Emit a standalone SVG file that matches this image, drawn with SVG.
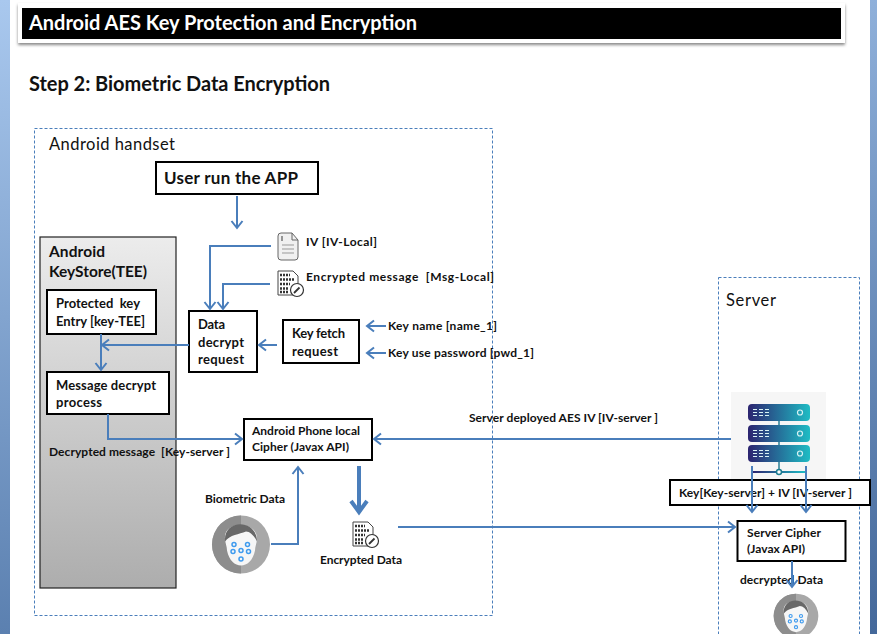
<svg xmlns="http://www.w3.org/2000/svg" width="877" height="634" viewBox="0 0 877 634">
<style>
text{font-family:Lato,"Open Sans","Liberation Sans",sans-serif;fill:#111;font-weight:700;white-space:pre}
.box{fill:#fff;stroke:#000;stroke-width:2}
.zone{fill:none;stroke:#4a7ebb;stroke-width:1;stroke-dasharray:3 2}
.c{fill:none;stroke:#4a7ebb;stroke-width:2;marker-end:url(#a)}
.s13{font-size:13px}.s12{font-size:12px}
.thin{font-weight:400}
</style>
<defs>
<marker id="a" markerUnits="userSpaceOnUse" markerWidth="14" markerHeight="14" refX="9.5" refY="7" orient="auto"><path d="M2.5 1.5L9.5 7L2.5 12.500" fill="none" stroke="#4a7ebb" stroke-width="2"/></marker>
<marker id="b" markerUnits="userSpaceOnUse" markerWidth="22" markerHeight="22" refX="14" refY="10" orient="auto"><path d="M3 2L14 10L3 18" fill="none" stroke="#4a7ebb" stroke-width="4"/></marker>
<linearGradient id="ls" x1="0" y1="0" x2="0" y2="1"><stop offset="0" stop-color="#a9c8ee"/><stop offset="1" stop-color="#5b80b0"/></linearGradient>
<linearGradient id="rs" x1="0" y1="0" x2="0" y2="1"><stop offset="0" stop-color="#8fb0da"/><stop offset="1" stop-color="#44689a"/></linearGradient>
<linearGradient id="ks" x1="0" y1="0" x2="0" y2="1"><stop offset="0" stop-color="#ececec"/><stop offset="1" stop-color="#adadad"/></linearGradient>
<linearGradient id="sv" x1="0" y1="0" x2="1" y2="0"><stop offset="0" stop-color="#2c2470"/><stop offset="1" stop-color="#1fbcc4"/></linearGradient>
<filter id="sh" x="-5%" y="-20%" width="110%" height="150%"><feDropShadow dx="0" dy="2" stdDeviation="1.500" flood-color="#888"/></filter>
<g id="enc"><path d="M1 1H16L21 6V25H1Z" fill="#fff" stroke="#444" stroke-width="1"/><path d="M3 5h10M3 9.500h14M3 14h10M3 18.500h9M3 22h8" stroke="#333" stroke-width="2.500" stroke-dasharray="2 1" fill="none"/><circle cx="20" cy="20" r="6.500" fill="#fff" stroke="#333" stroke-width="1.200"/><path d="M17 23L22.500 17.500" stroke="#333" stroke-width="1.800"/></g>
<g id="face"><circle r="29" fill="#a8a8a8"/><path d="M0-29A29 29 0 0 0 0 29Z" fill="#8d8d8d"/><path d="M-16-6C-18-24 16-24 16-6C16-2 14 2 14 6C12 16 6 21 0 21C-6 21-12 16-14 6C-14 2-16-2-16-6Z" fill="#f6f6f6"/><path d="M-16-3C-18-26 16-26 16-3C13-9 9-13 5-13C-2-10-11-10-16-3Z" fill="#686868"/><g fill="none" stroke="#3f9bee" stroke-width="1.500"><circle cx="-7" cy="0" r="2"/><circle cx="6.500" cy="0" r="2"/><circle cx="-8" cy="7" r="2"/><circle cx="0" cy="6" r="2"/><circle cx="7.500" cy="7" r="2"/><circle cx="0" cy="14.500" r="2"/></g></g>
</defs>
<rect width="877" height="634" fill="#fff"/>
<rect x="0" y="0" width="10" height="634" fill="url(#ls)"/>
<rect x="870" y="0" width="7" height="634" fill="url(#rs)"/>

<g id="title"><rect x="18" y="3" width="827" height="40" fill="#fff" filter="url(#sh)"/><rect x="22" y="8" width="819" height="31" fill="#000"/><text x="29" y="30" font-size="20" style="fill:#fff" textLength="388">Android AES Key Protection and Encryption</text></g>
<g id="step"><text x="29" y="91" font-size="20" textLength="301">Step 2: Biometric Data Encryption</text></g>

<g id="android-handset"><rect class="zone" x="34.500" y="128.500" width="458" height="487"/><text class="thin" x="49" y="150" font-size="16.500" textLength="126">Android handset</text></g>
<g id="server-zone"><rect class="zone" x="718.500" y="277.500" width="141" height="370"/><text class="thin" x="726" y="306" font-size="16.500" textLength="50">Server</text></g>

<g id="keystore"><rect x="40" y="237" width="136" height="351" fill="url(#ks)" stroke="#222" stroke-width="1.200"/><text x="49" y="257" font-size="15.500" textLength="56">Android</text><text x="49" y="277" font-size="15.500" textLength="98">KeyStore(TEE)</text></g>
<g id="protected-key"><rect class="box" x="47" y="290" width="109" height="44"/><text class="s13" x="56" y="308" textLength="84">Protected  key</text><text class="s13" x="56" y="326" textLength="89">Entry [key-TEE]</text></g>
<g id="message-decrypt"><rect class="box" x="47" y="372" width="122" height="42"/><text class="s13" x="56" y="390" textLength="100">Message decrypt</text><text class="s13" x="56" y="407" textLength="46">process</text></g>
<g id="decrypted-message"><text class="s12" x="49" y="456" textLength="181">Decrypted message  [Key-server ]</text></g>

<g id="user-run"><rect class="box" x="156" y="162" width="162" height="32"/><text x="164" y="184" font-size="17" textLength="134">User run the APP</text></g>
<g id="data-decrypt"><rect class="box" x="189" y="311" width="68" height="61"/><text class="s13" x="198" y="329" textLength="27">Data</text><text class="s13" x="198" y="347" textLength="46">decrypt</text><text class="s13" x="198" y="364" textLength="46">request</text></g>
<g id="key-fetch"><rect class="box" x="283" y="320" width="76" height="43"/><text class="s13" x="292" y="338" textLength="53">Key fetch</text><text class="s13" x="292" y="356" textLength="46">request</text></g>
<g id="phone-cipher"><rect class="box" x="244" y="419" width="128" height="41"/><text class="s12" x="252" y="435" textLength="108">Android Phone local</text><text class="s12" x="252" y="451" textLength="97">Cipher (Javax API)</text></g>

<g id="iv-local"><path d="M278 236Q278 233 281 233H292L298 240V257Q298 260 295 260H281Q278 260 278 257Z" fill="#f0f0f0" stroke="#666" stroke-width="1"/><path d="M292 233V240H298" fill="none" stroke="#666" stroke-width="1"/><path d="M282 236V241" stroke="#777" stroke-width="1.500"/><path d="M282 245h12M282 249h12M282 253h12" stroke="#999" stroke-width="1"/><text class="s12" x="306" y="246" textLength="71">IV [IV-Local]</text></g>
<g id="encrypted-message"><use href="#enc" x="277" y="270"/><text class="s12" x="306" y="281" textLength="188">Encrypted message  [Msg-Local]</text></g>
<g id="key-name"><text class="s12" x="388" y="330" textLength="109">Key name [name_1]</text></g>
<g id="key-password"><text class="s12" x="388" y="357" textLength="146">Key use password [pwd_1]</text></g>
<g id="biometric-data"><text class="s12" x="205" y="503" textLength="80">Biometric Data</text><use href="#face" x="241" y="544.500"/></g>
<g id="encrypted-data"><use href="#enc" x="352" y="521"/><text class="s12" x="320" y="564" textLength="82">Encrypted Data</text></g>
<g id="server-deployed"><text class="s12" x="469" y="422" textLength="189">Server deployed AES IV [IV-server ]</text></g>

<g id="server-icon"><rect x="731" y="392" width="95" height="95" fill="#f6f6f6"/><path d="M779 420V472" stroke="#2a7f94" stroke-width="1.500"/><rect x="753" y="471" width="52" height="2" fill="url(#sv)"/><rect x="748" y="404" width="62" height="17" rx="4" fill="url(#sv)"/><rect x="748" y="425" width="62" height="17" rx="4" fill="url(#sv)"/><rect x="748" y="445" width="62" height="17" rx="4" fill="url(#sv)"/><g fill="none" stroke="#d8f2f4" stroke-width="1.200"><circle cx="800" cy="412.500" r="2.500"/><circle cx="800" cy="433.500" r="2.500"/><circle cx="800" cy="453.500" r="2.500"/><path d="M753 409.500h18M753 412.500h18M753 415.500h18M753 430.500h18M753 433.500h18M753 436.500h18M753 450.500h18M753 453.500h18M753 456.500h18" stroke-dasharray="4 2"/></g><circle cx="779" cy="472" r="2.500" fill="#fff" stroke="#1d7d90" stroke-width="1.500"/></g>
<g id="key-iv"><rect class="box" x="670" y="480" width="200" height="25"/><text class="s12" x="679" y="497" textLength="173">Key[Key-server] + IV [IV-server ]</text></g>
<g id="server-cipher"><rect class="box" x="737.500" y="521" width="108" height="40"/><text class="s12" x="747" y="537" textLength="74">Server Cipher</text><text class="s12" x="747" y="553" textLength="58">(Javax API)</text></g>
<g id="decrypted-data"><text class="s12" x="740" y="584" textLength="83">decrypted Data</text><use href="#face" transform="translate(796 616) scale(.77)"/></g>

<g id="connectors">
<path class="c" d="M237 196V228"/>
<path class="c" d="M271 246H210V309"/>
<path class="c" d="M270 284H223V309"/>
<path class="c" d="M277 345H259"/>
<path class="c" d="M189 345H102"/>
<path class="c" d="M101 334V370"/>
<path class="c" d="M108 414V439H242"/>
<path class="c" d="M386 326H367"/>
<path class="c" d="M386 353H367"/>
<path class="c" d="M731 439H374"/>
<path class="c" d="M271 544H298V467"/>
<path d="M359 466V512" fill="none" stroke="#4a7ebb" stroke-width="4" marker-end="url(#b)"/>
<path class="c" d="M398 527H735"/>
<path class="c" d="M752 466V512"/>
<path class="c" d="M806 466V512"/>
<path class="c" d="M792 561V587"/>
</g>
</svg>
